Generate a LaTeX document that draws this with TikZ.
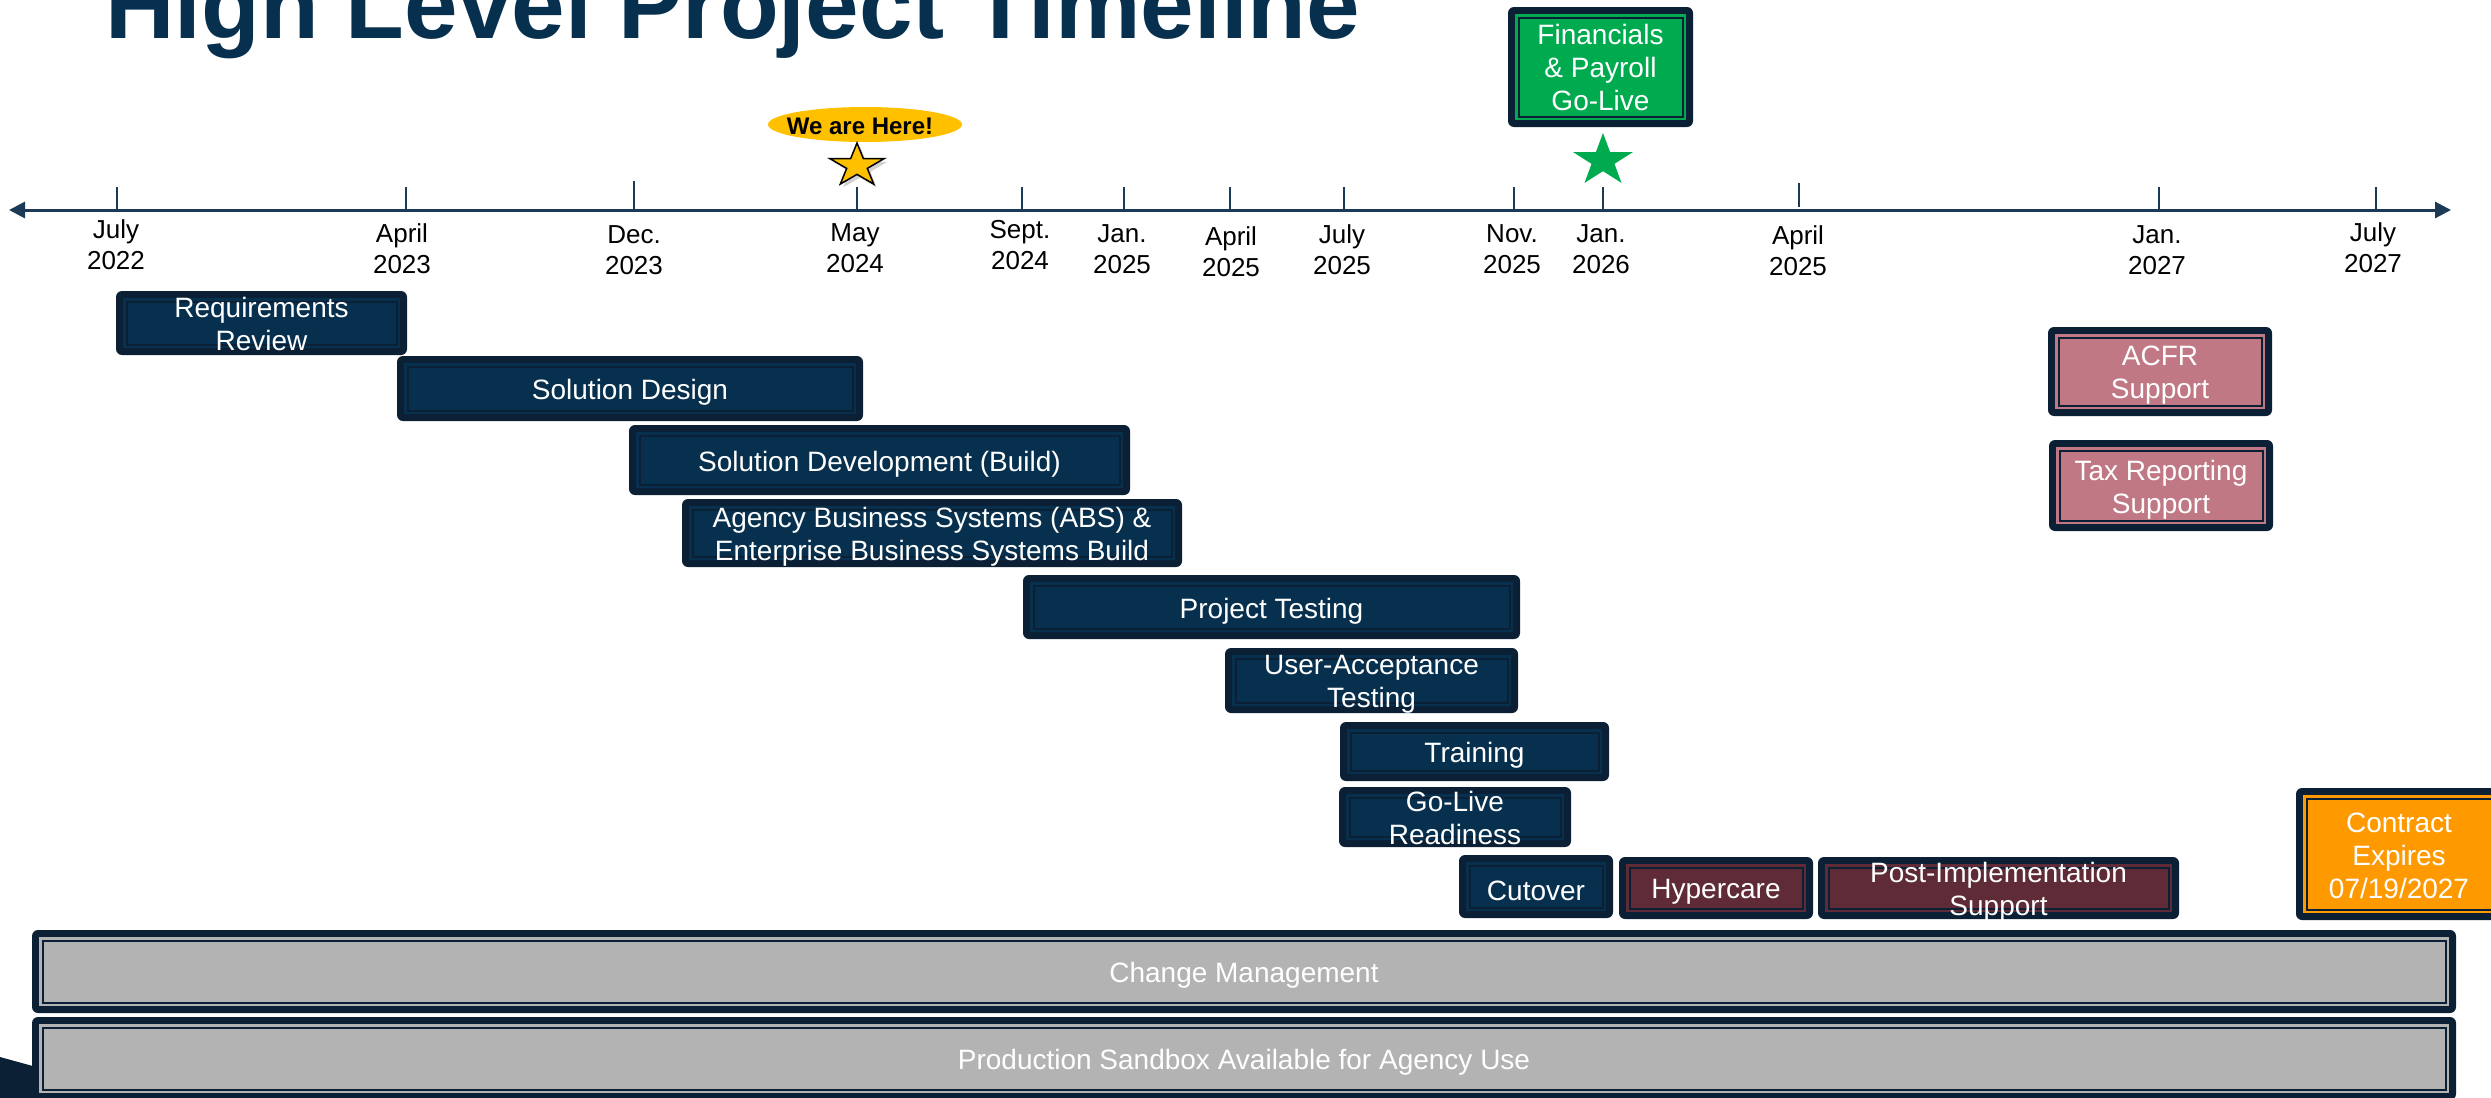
\documentclass[tikz,border=0pt]{standalone}
\usepackage{fontspec}
\setmainfont{Liberation Sans}
\usetikzlibrary{arrows.meta,shapes.geometric}
\definecolor{navy}{HTML}{07304E}
\definecolor{framec}{HTML}{0C2035}
\definecolor{axisc}{HTML}{1A3A56}
\definecolor{titlec}{HTML}{07304E}
\definecolor{grayf}{HTML}{B3B3B3}
\definecolor{hyperf}{HTML}{5E2B36}
\definecolor{pinkf}{HTML}{C07885}
\definecolor{orangef}{HTML}{FF9900}
\definecolor{greenf}{HTML}{00AB50}
\definecolor{yellowf}{HTML}{FFC000}
% [text shift], name, x1, y1, x2, y2, fill colour, text
\newcommand\tlbox[8][-2pt]{%
  \fill[framec, rounded corners=3pt] (#3,#4) rectangle (#5,#6);
  \fill[#7] ({#3+7},{#4+7}) rectangle ({#5-7},{#6-7});
  \draw[framec, line width=1pt] ({#3+10.5},{#4+10.5}) rectangle ({#5-10.5},{#6-10.5});
  \node[boxtext, yshift=#1] (#2) at ({(#3+#5)/2},{(#4+#6)/2}) {#8};
}
% name, tick x, tick top, tick bottom, label x, label y, month, year
\newcommand\tlmark[8]{%
  \coordinate (#1top) at (#2,#3);
  \coordinate (#1bot) at (#2,#4);
  \draw[tickline] (#1top) -- (#1bot);
  \node[datelabel] (#1) at (#5,#6) {#7\\#8};
}
% cx, cy, rx, ry, options
\newcommand\starshape[5]{%
  \path[#5] plot[samples at={0,1,...,9}, variable=\k]
    ({#1+#3*(1-0.618*mod(\k,2))*cos(90+36*\k)},{#2-#4*(1-0.618*mod(\k,2))*sin(90+36*\k)}) -- cycle;
}
\begin{document}
\begin{tikzpicture}[x=0.5pt,y=-0.5pt,
  boxtext/.style={text=white, align=center, font=\fontsize{14}{16.5}\selectfont, inner sep=0pt},
  datelabel/.style={align=center, font=\fontsize{13}{15.5}\selectfont, inner sep=0pt},
  tickline/.style={draw=axisc, line width=0.75pt},
  axisline/.style={draw=axisc, line width=1.5pt}]
\useasboundingbox (0,0) rectangle (2491,1098);

% title
\node[anchor=base west, inner sep=0pt, text=titlec, font=\fontsize{48.1}{50}\selectfont\bfseries] (title) at (105,38) {High Level Project Timeline};

% axis
\coordinate (axL) at (9,210);
\coordinate (axR) at (2451,210);
\draw[axisline, {Triangle[length=8pt,width=8pt]}-{Triangle[length=8pt,width=8pt]}] (axL) -- (axR);

% ticks and date labels
\tlmark{jul22}{117}{187}{210}{116}{245}{July}{2022}
\tlmark{apr23}{406}{187}{210}{402}{248.5}{April}{2023}
\tlmark{dec23}{634}{181}{210}{634}{250.5}{Dec.}{2023}
\tlmark{may24}{857}{187}{210}{855}{248.5}{May}{2024}
\tlmark{sep24}{1022}{187}{210}{1020}{245.5}{Sept.}{2024}
\tlmark{jan25}{1124}{187}{210}{1122}{249}{Jan.}{2025}
\tlmark{apr25}{1230}{187}{210}{1231}{252}{April}{2025}
\tlmark{jul25}{1344}{187}{210}{1342}{250}{July}{2025}
\tlmark{nov25}{1514}{187}{210}{1512}{249.5}{Nov.}{2025}
\tlmark{jan26}{1603}{187}{210}{1601}{249.5}{Jan.}{2026}
\tlmark{aprb}{1799}{183}{207}{1798}{250.5}{April}{2025}
\tlmark{jan27}{2159}{187}{210}{2157}{249.8}{Jan.}{2027}
\tlmark{jul27}{2376}{187}{210}{2373}{247.7}{July}{2027}

% We are here
\fill[yellowf] (865,124.5) ellipse [x radius=97, y radius=17.5];
\node[inner sep=0pt, font=\fontsize{12}{14}\selectfont\bfseries] (here) at (860,126) {We are Here!};
\starshape{860}{169}{28.4}{22.7}{fill=black, opacity=0.18}
\starshape{857}{165.7}{28.4}{22.7}{fill=yellowf, draw=black, line width=0.75pt}
\coordinate (herestar) at (857,165.7);

% go-live star
\starshape{1603}{160.6}{31.5}{27.6}{fill=greenf}
\coordinate (golivestar) at (1603,160.6);

% bottom-left decoration
\fill[framec] (0,1057) -- (40,1068) -- (40,1098) -- (0,1098) -- cycle;

% boxes
\tlbox[0pt]{fin}{1508}{7}{1693}{127}{greenf}{Financials\\\& Payroll\\Go-Live}
\tlbox[-0.7pt]{req}{116}{291}{407}{355}{navy}{Requirements\\Review}
\tlbox{sdes}{397}{356}{863}{421}{navy}{Solution Design}
\tlbox{sdev}{629}{425}{1130}{495}{navy}{Solution Development (Build)}
\tlbox{abs}{682}{499}{1182}{567}{navy}{Agency Business Systems (ABS) \&\\Enterprise Business Systems Build}
\tlbox{ptest}{1023}{575}{1520}{639}{navy}{Project Testing}
\tlbox{uat}{1225}{648}{1518}{713}{navy}{User-Acceptance\\Testing}
\tlbox{train}{1340}{722}{1609}{781}{navy}{Training}
\tlbox[-0.7pt]{golive}{1339}{787}{1571}{847}{navy}{Go-Live\\Readiness}
\tlbox{cut}{1459}{855}{1613}{918}{navy}{Cutover}
\tlbox{hyper}{1619}{857}{1813}{919}{hyperf}{Hypercare}
\tlbox{post}{1818}{857}{2179}{919}{hyperf}{Post-Implementation\\Support}
\tlbox[-0.7pt]{contract}{2296}{788}{2502}{920}{orangef}{Contract\\Expires\\07/19/2027}
\tlbox{acfr}{2048}{327}{2272}{416}{pinkf}{ACFR\\Support}
\tlbox{tax}{2049}{440}{2273}{531}{pinkf}{Tax Reporting\\Support}
\tlbox{change}{32}{930}{2456}{1013}{grayf}{Change Management}
\tlbox{sandbox}{32}{1017}{2456}{1100}{grayf}{Production Sandbox Available for Agency Use}
\end{tikzpicture}
\end{document}
